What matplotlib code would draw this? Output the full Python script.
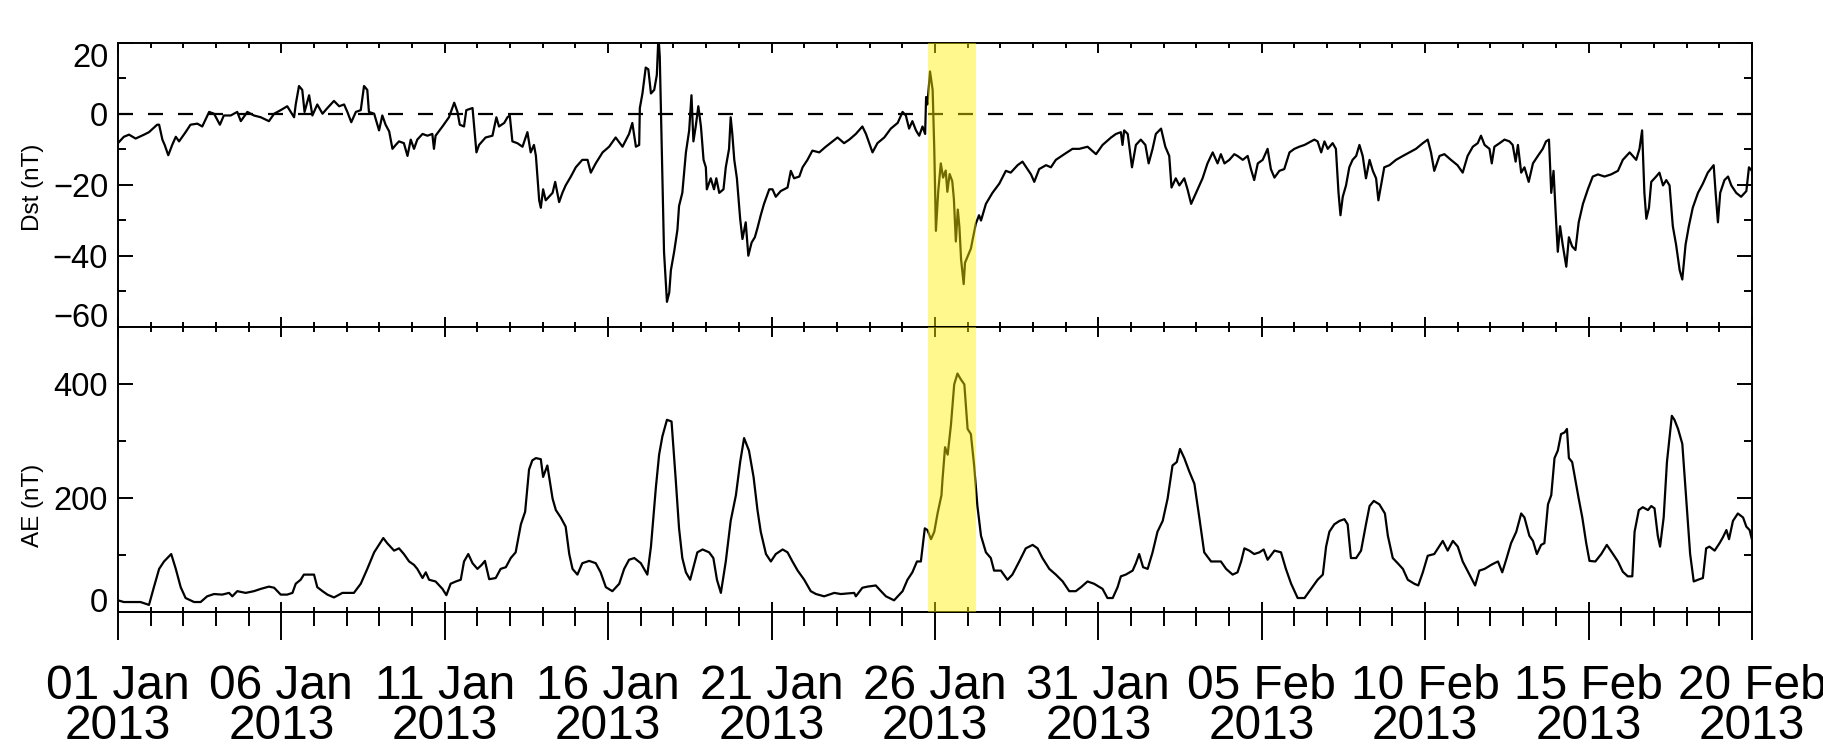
import numpy as np
import pandas as pd
import matplotlib
matplotlib.use("Agg")
from matplotlib import pyplot as plt
import matplotlib.dates as mdates
from matplotlib.ticker import FixedLocator, MultipleLocator

start = pd.Timestamp("2013-01-01")

# Dst index, days since 01 Jan 2013 00 UT, nT
dst_day = [0.00, 0.18, 0.34, 0.54, 0.80, 0.95, 1.20, 1.26, 1.36, 1.43, 1.54, 1.66, 1.77, 1.87, 1.97,
           2.07, 2.22, 2.43, 2.58, 2.79, 2.94, 3.12, 3.24, 3.45, 3.65, 3.76, 3.96, 4.16, 4.37, 4.62,
           4.78, 4.98, 5.18, 5.29, 5.39, 5.44, 5.54, 5.64, 5.71, 5.85, 5.95, 6.10, 6.26, 6.41, 6.61,
           6.77, 6.92, 7.02, 7.14, 7.28, 7.43, 7.53, 7.63, 7.68, 7.84, 7.99, 8.09, 8.19, 8.30, 8.40,
           8.50, 8.60, 8.75, 8.86, 8.96, 9.06, 9.16, 9.32, 9.47, 9.62, 9.67, 9.72, 9.93, 10.13, 10.29,
           10.39, 10.46, 10.59, 10.66, 10.85, 10.93, 10.97, 11.05, 11.25, 11.46, 11.58, 11.66, 11.82, 11.92, 11.99,
           12.07, 12.22, 12.38, 12.53, 12.63, 12.73, 12.79, 12.84, 12.89, 12.94, 13.01, 13.09, 13.30, 13.38, 13.50,
           13.60, 13.70, 13.86, 14.01, 14.21, 14.37, 14.47, 14.62, 14.83, 15.03, 15.23, 15.44, 15.64, 15.74, 15.85,
           15.95, 15.97, 16.05, 16.15, 16.23, 16.31, 16.41, 16.49, 16.54, 16.58, 16.64, 16.71, 16.80, 16.87, 16.92,
           17.02, 17.12, 17.17, 17.27, 17.38, 17.48, 17.55, 17.61, 17.68, 17.76, 17.84, 17.92, 17.99, 18.02, 18.14,
           18.24, 18.31, 18.40, 18.53, 18.60, 18.70, 18.75, 18.80, 18.86, 18.94, 19.04, 19.11, 19.21, 19.29, 19.39,
           19.49, 19.57, 19.67, 19.77, 19.93, 20.03, 20.13, 20.28, 20.49, 20.59, 20.69, 20.85, 20.95, 21.10, 21.25,
           21.46, 21.66, 21.87, 22.02, 22.22, 22.38, 22.58, 22.78, 22.89, 23.09, 23.24, 23.45, 23.65, 23.86, 24.01,
           24.11, 24.21, 24.31, 24.42, 24.52, 24.62, 24.70, 24.73, 24.77, 24.85, 24.93, 24.98, 25.03, 25.10, 25.18,
           25.25, 25.33, 25.38, 25.45, 25.53, 25.58, 25.64, 25.70, 25.75, 25.80, 25.88, 25.92, 26.10, 26.25, 26.35,
           26.41, 26.56, 26.76, 26.97, 27.17, 27.32, 27.53, 27.68, 27.83, 27.94, 28.04, 28.19, 28.40, 28.55, 28.70,
           28.96, 29.21, 29.42, 29.67, 29.93, 30.13, 30.39, 30.54, 30.69, 30.74, 30.79, 30.90, 31.03, 31.15, 31.30,
           31.44, 31.54, 31.66, 31.76, 31.92, 32.05, 32.17, 32.24, 32.37, 32.48, 32.63, 32.73, 32.84, 32.99, 33.19,
           33.34, 33.50, 33.65, 33.75, 33.86, 34.01, 34.16, 34.26, 34.42, 34.57, 34.67, 34.77, 34.88, 35.03, 35.18,
           35.28, 35.39, 35.54, 35.69, 35.85, 36.00, 36.15, 36.31, 36.51, 36.61, 36.71, 36.82, 36.92, 37.02, 37.17,
           37.27, 37.35, 37.41, 37.48, 37.58, 37.68, 37.78, 37.89, 37.99, 38.09, 38.19, 38.30, 38.40, 38.50, 38.57,
           38.65, 38.75, 38.91, 39.11, 39.32, 39.52, 39.72, 39.93, 40.08, 40.18, 40.28, 40.44, 40.59, 40.79, 40.99,
           41.15, 41.30, 41.46, 41.61, 41.71, 41.82, 41.97, 42.04, 42.12, 42.28, 42.43, 42.58, 42.68, 42.77, 42.84,
           42.94, 43.04, 43.17, 43.30, 43.45, 43.60, 43.70, 43.79, 43.86, 43.93, 44.01, 44.06, 44.13, 44.21, 44.32,
           44.40, 44.50, 44.60, 44.70, 44.83, 44.98, 45.13, 45.29, 45.49, 45.69, 45.90, 46.05, 46.26, 46.46, 46.56,
           46.64, 46.71, 46.77, 46.85, 46.92, 47.07, 47.17, 47.28, 47.38, 47.48, 47.58, 47.68, 47.79, 47.87, 47.97,
           48.07, 48.19, 48.35, 48.50, 48.65, 48.83, 48.89, 48.96, 49.03, 49.16, 49.27, 49.37, 49.52, 49.67, 49.83,
           49.91, 50.00]
dst_nt = [-8.3, -6.5, -5.9, -7.0, -5.9, -5.2, -3.1, -3.1, -7.3, -8.8, -11.7, -8.8, -6.5, -7.8, -6.5,
          -5.2, -3.1, -2.8, -3.6, 0.5, 0.0, -3.1, -0.5, -0.5, 0.5, -2.1, 0.5, -0.5, -1.0, -2.1,
          0.0, 1.0, 2.1, 0.5, -1.0, 2.6, 7.8, 6.7, 0.5, 5.2, -0.5, 2.6, 0.0, 1.6, 3.6,
          2.1, 2.6, 0.5, -2.4, 0.5, 1.0, 7.8, 6.7, 0.5, 0.0, -4.7, -0.5, -3.1, -5.0, -9.9,
          -8.8, -7.8, -8.3, -11.9, -7.3, -9.9, -7.3, -5.7, -6.2, -5.7, -9.9, -6.2, -3.6, -1.0, 3.1,
          0.5, -3.1, -3.6, 1.0, 1.6, -6.7, -10.9, -8.8, -6.7, -6.2, -1.0, -3.6, -2.6, -1.0, -0.5,
          -7.8, -8.3, -9.3, -5.2, -10.9, -8.8, -11.9, -18.2, -24.4, -26.5, -21.3, -24.4, -22.3, -19.2, -24.9,
          -22.3, -20.2, -17.7, -15.1, -13.0, -13.0, -16.6, -14.0, -10.9, -9.3, -6.7, -9.3, -5.7, -2.6, -9.3,
          -8.8, 1.6, 5.7, 13.0, 12.5, 5.7, 6.7, 10.9, 22.0, 16.1, -9.9, -38.9, -53.0, -50.4, -44.1,
          -38.9, -32.7, -26.0, -22.3, -10.9, -4.7, 5.2, -7.8, -3.6, 2.1, -3.6, -13.0, -15.1, -21.3, -18.2,
          -21.3, -18.2, -22.3, -21.3, -15.1, -9.9, -1.0, -5.7, -13.0, -18.2, -29.6, -35.3, -30.6, -40.0, -36.3,
          -34.8, -32.2, -28.6, -25.4, -21.3, -21.3, -23.4, -21.8, -20.8, -16.1, -18.2, -17.7, -15.1, -13.0, -10.4,
          -10.9, -9.3, -7.8, -6.7, -8.3, -7.3, -5.7, -3.6, -5.7, -10.9, -8.3, -6.7, -4.2, -2.6, 0.5,
          -0.5, -4.2, -2.1, -4.7, -6.2, -3.6, -5.7, 4.7, 2.6, 11.9, 6.7, -9.9, -33.0, -22.0, -14.0,
          -18.0, -16.0, -22.0, -17.0, -19.0, -24.0, -36.0, -27.0, -32.0, -41.0, -48.0, -42.0, -38.0, -31.0, -28.6,
          -30.1, -25.4, -22.3, -19.7, -16.1, -16.6, -14.5, -13.5, -15.6, -17.1, -19.2, -15.6, -14.5, -15.1, -13.0,
          -11.4, -9.9, -9.9, -9.3, -11.4, -8.8, -6.7, -5.7, -5.2, -8.8, -4.7, -5.7, -15.1, -8.8, -7.3,
          -8.8, -14.0, -9.9, -5.7, -4.2, -9.3, -11.9, -20.8, -18.2, -20.2, -18.2, -21.3, -25.4, -22.3, -18.2,
          -14.0, -10.9, -14.0, -11.4, -14.0, -13.0, -11.4, -11.9, -13.0, -11.9, -15.6, -18.7, -14.0, -13.0, -9.9,
          -15.6, -18.0, -16.1, -15.6, -10.9, -9.9, -9.3, -8.8, -7.8, -7.3, -7.8, -10.9, -7.8, -9.9, -8.3,
          -9.9, -22.3, -28.6, -23.4, -20.2, -15.1, -13.0, -11.9, -8.8, -11.9, -18.2, -13.0, -16.1, -18.2, -24.4,
          -20.2, -15.1, -14.5, -13.0, -11.9, -10.9, -9.9, -8.3, -7.3, -10.9, -16.1, -11.9, -11.4, -13.0, -14.5,
          -16.6, -11.9, -9.3, -8.3, -6.2, -8.8, -9.9, -14.0, -9.3, -8.3, -7.3, -7.8, -8.8, -13.5, -8.8,
          -16.6, -15.1, -19.2, -14.0, -11.9, -9.9, -7.8, -7.3, -22.3, -16.1, -30.6, -38.9, -31.7, -36.9, -43.1,
          -34.8, -37.4, -38.4, -30.6, -25.4, -21.3, -17.7, -17.1, -17.7, -17.1, -16.1, -13.0, -10.9, -13.0, -9.9,
          -4.7, -22.3, -29.6, -26.5, -19.2, -17.7, -16.6, -20.2, -18.7, -20.2, -31.7, -36.9, -44.1, -46.7, -36.9,
          -31.7, -26.5, -22.3, -19.7, -16.6, -14.5, -22.3, -30.6, -22.3, -18.7, -17.7, -20.2, -22.3, -23.4, -21.8,
          -15.1, -16.1]

# AE index, days since 01 Jan 2013 00 UT, nT
ae_day = [0.00, 0.18, 0.49, 0.69, 0.95, 1.10, 1.26, 1.41, 1.63, 1.77, 1.92, 2.07, 2.33, 2.53, 2.73,
          2.94, 3.19, 3.40, 3.50, 3.65, 3.91, 4.16, 4.37, 4.62, 4.78, 4.98, 5.18, 5.34, 5.44, 5.59,
          5.69, 6.00, 6.10, 6.26, 6.41, 6.61, 6.87, 7.22, 7.43, 7.63, 7.84, 8.12, 8.24, 8.45, 8.60,
          8.75, 8.91, 9.06, 9.16, 9.32, 9.42, 9.52, 9.72, 9.93, 10.05, 10.18, 10.34, 10.49, 10.59, 10.72,
          10.85, 11.00, 11.13, 11.23, 11.36, 11.56, 11.71, 11.87, 12.02, 12.17, 12.33, 12.46, 12.58, 12.68, 12.79,
          12.94, 13.01, 13.14, 13.30, 13.40, 13.55, 13.70, 13.81, 13.91, 14.06, 14.21, 14.42, 14.62, 14.77, 14.93,
          15.13, 15.34, 15.49, 15.64, 15.80, 16.00, 16.20, 16.31, 16.46, 16.56, 16.66, 16.80, 16.94, 17.07, 17.17,
          17.27, 17.38, 17.51, 17.63, 17.73, 17.89, 18.09, 18.22, 18.33, 18.45, 18.60, 18.75, 18.91, 19.04, 19.16,
          19.31, 19.45, 19.57, 19.67, 19.83, 19.98, 20.13, 20.34, 20.49, 20.64, 20.80, 21.00, 21.20, 21.36, 21.61,
          21.92, 22.12, 22.53, 22.58, 22.78, 22.94, 23.19, 23.35, 23.50, 23.75, 24.01, 24.16, 24.31, 24.45, 24.57,
          24.69, 24.77, 24.88, 24.98, 25.08, 25.20, 25.23, 25.31, 25.39, 25.49, 25.59, 25.69, 25.79, 25.90, 26.00,
          26.10, 26.20, 26.30, 26.41, 26.56, 26.71, 26.81, 27.02, 27.22, 27.37, 27.58, 27.78, 27.99, 28.14, 28.29,
          28.50, 28.70, 28.91, 29.11, 29.31, 29.47, 29.67, 29.87, 30.13, 30.28, 30.44, 30.59, 30.69, 30.84, 31.05,
          31.15, 31.25, 31.37, 31.51, 31.66, 31.81, 31.97, 32.12, 32.27, 32.40, 32.50, 32.63, 32.78, 32.94, 33.09,
          33.24, 33.45, 33.75, 33.91, 34.11, 34.26, 34.37, 34.47, 34.62, 34.77, 34.93, 35.06, 35.18, 35.39, 35.59,
          35.74, 35.90, 36.10, 36.31, 36.51, 36.71, 36.87, 36.97, 37.07, 37.22, 37.38, 37.53, 37.63, 37.73, 37.89,
          38.04, 38.19, 38.30, 38.43, 38.60, 38.77, 38.86, 39.01, 39.16, 39.32, 39.47, 39.67, 39.79, 39.93, 40.08,
          40.28, 40.54, 40.69, 40.85, 41.00, 41.15, 41.36, 41.53, 41.66, 41.82, 42.02, 42.12, 42.23, 42.36, 42.48,
          42.63, 42.79, 42.94, 43.04, 43.19, 43.30, 43.42, 43.55, 43.65, 43.76, 43.86, 43.96, 44.06, 44.16, 44.27,
          44.34, 44.40, 44.50, 44.60, 44.70, 44.81, 44.93, 45.03, 45.21, 45.39, 45.56, 45.75, 45.90, 46.05, 46.20,
          46.34, 46.41, 46.54, 46.66, 46.82, 46.92, 47.02, 47.12, 47.19, 47.30, 47.40, 47.55, 47.63, 47.74, 47.87,
          47.99, 48.11, 48.22, 48.35, 48.50, 48.60, 48.70, 48.86, 49.01, 49.11, 49.22, 49.30, 49.42, 49.57, 49.73,
          49.83, 49.93, 50.00]
ae_nt = [21, 18, 18, 18, 13, 44, 76, 89, 102, 76, 44, 25, 18, 18, 28,
         32, 31, 34, 28, 37, 34, 37, 41, 45, 43, 31, 31, 34, 50, 57,
         66, 66, 44, 37, 31, 26, 34, 34, 50, 76, 105, 130, 121, 108, 112,
         102, 89, 83, 76, 60, 70, 57, 54, 41, 30, 50, 54, 57, 89, 102,
         86, 76, 83, 90, 58, 60, 76, 79, 95, 105, 154, 176, 250, 266, 270,
         268, 237, 257, 199, 179, 166, 150, 102, 76, 66, 86, 90, 86, 70, 44,
         37, 50, 76, 92, 95, 86, 66, 115, 218, 276, 308, 337, 334, 231, 147,
         95, 70, 57, 83, 105, 110, 105, 95, 57, 34, 89, 160, 205, 263, 305,
         283, 237, 179, 141, 102, 89, 102, 110, 105, 89, 73, 57, 37, 32, 28,
         34, 32, 34, 28, 43, 45, 47, 37, 28, 21, 37, 57, 70, 89, 89,
         147, 144, 128, 141, 173, 205, 231, 289, 276, 328, 399, 418, 408, 399, 321,
         312, 257, 186, 134, 105, 95, 73, 73, 57, 66, 89, 112, 118, 112, 95,
         76, 66, 54, 37, 37, 44, 54, 50, 41, 25, 25, 44, 63, 66, 73,
         86, 102, 79, 76, 105, 141, 160, 199, 257, 263, 286, 270, 247, 225, 166,
         105, 89, 89, 76, 66, 70, 89, 112, 108, 102, 105, 110, 92, 108, 105,
         76, 50, 25, 25, 41, 57, 66, 115, 141, 154, 160, 163, 154, 95, 95,
         108, 154, 186, 195, 189, 173, 134, 95, 86, 76, 57, 50, 47, 70, 99,
         102, 125, 108, 125, 115, 89, 66, 47, 73, 76, 83, 86, 89, 70, 92,
         121, 141, 173, 166, 134, 125, 102, 118, 121, 189, 205, 270, 283, 312, 315,
         321, 270, 263, 231, 199, 166, 121, 90, 89, 102, 118, 102, 89, 71, 63,
         63, 141, 179, 184, 179, 186, 182, 134, 115, 166, 263, 344, 337, 321, 295,
         199, 102, 54, 57, 60, 112, 115, 108, 121, 131, 144, 128, 160, 173, 166,
         150, 144, 128]

# highlighted interval
event_start = pd.Timestamp("2013-01-25 19:00")
event_end = pd.Timestamp("2013-01-27 06:00")

major_dates = pd.date_range("2013-01-01", "2013-02-20", freq="5D")

plt.rcParams["font.family"] = ["Liberation Sans", "DejaVu Sans"]

t_dst = start + pd.to_timedelta(dst_day, unit="D")
t_ae = start + pd.to_timedelta(ae_day, unit="D")

fig = plt.figure(figsize=(18.23, 7.44), dpi=100)
ax1 = fig.add_axes([0.0647, 0.5609, 0.8963, 0.3817])
ax2 = fig.add_axes([0.0647, 0.1770, 0.8963, 0.3839], sharex=ax1)

lw = 1.6
ax1.plot(t_dst, dst_nt, color="black", lw=lw)
ax1.axhline(0, color="black", lw=lw, dashes=(6.75, 6.75))
ax2.plot(t_ae, ae_nt, color="black", lw=lw)

for ax in (ax1, ax2):
    ax.axvspan(event_start, event_end, color="#fff000", alpha=0.45, lw=0, zorder=5)
    for s in ax.spines.values():
        s.set_linewidth(1.4)

ax1.set_xlim(pd.Timestamp("2013-01-01"), pd.Timestamp("2013-02-20"))
ax1.xaxis.set_major_locator(FixedLocator(mdates.date2num(major_dates)))
ax1.xaxis.set_minor_locator(mdates.DayLocator())
ax1.xaxis.set_major_formatter(mdates.DateFormatter("%d %b\n%Y"))

# y axes
ax1.set_ylim(-60, 20)
ax1.yaxis.set_major_locator(FixedLocator([-60, -40, -20, 0, 20]))
ax1.yaxis.set_minor_locator(MultipleLocator(10))
ax2.set_ylim(0, 500)
ax2.yaxis.set_major_locator(FixedLocator([0, 200, 400]))
ax2.yaxis.set_minor_locator(MultipleLocator(100))

for ax in (ax1, ax2):
    ax.tick_params(axis="y", which="both", direction="in", left=True, right=True,
                   width=1.4, labelsize=23.5, pad=7)
    ax.tick_params(axis="y", which="major", length=11)
    ax.tick_params(axis="y", which="minor", length=6)
    ax.tick_params(axis="x", which="both", direction="in", top=True, bottom=True, width=1.4)
    ax.tick_params(axis="x", which="major", length=7)
    ax.tick_params(axis="x", which="minor", length=3.6)

ax1.tick_params(axis="x", labelbottom=False)
ax2.tick_params(axis="x", which="major", labelbottom=True, labelsize=34.5, pad=37)
for tk in ax2.xaxis.get_major_ticks():
    tk.label1.set_linespacing(0.86)

# outward ticks under the bottom panel
sec = ax2.secondary_xaxis("bottom")
sec.xaxis.set_major_locator(FixedLocator(mdates.date2num(major_dates)))
sec.xaxis.set_minor_locator(mdates.DayLocator())
sec.tick_params(axis="x", which="both", direction="out", width=1.4, labelbottom=False)
sec.tick_params(axis="x", which="major", length=20)
sec.tick_params(axis="x", which="minor", length=10)
sec.spines["bottom"].set_linewidth(1.4)

# edge labels pulled inside the panel, like the original
t1 = ax1.yaxis.get_major_ticks()
t1[0].label1.set_va("baseline")
t1[-1].label1.set_va("top")
t2 = ax2.yaxis.get_major_ticks()
t2[0].label1.set_va("baseline")

ax1.set_ylabel("Dst (nT)", fontsize=17.5)
ax1.yaxis.set_label_coords(-0.045, 0.49)
ax2.set_ylabel("AE (nT)", fontsize=17.5)
ax2.yaxis.set_label_coords(-0.045, 0.375)

fig.savefig("out.png", dpi=100)
